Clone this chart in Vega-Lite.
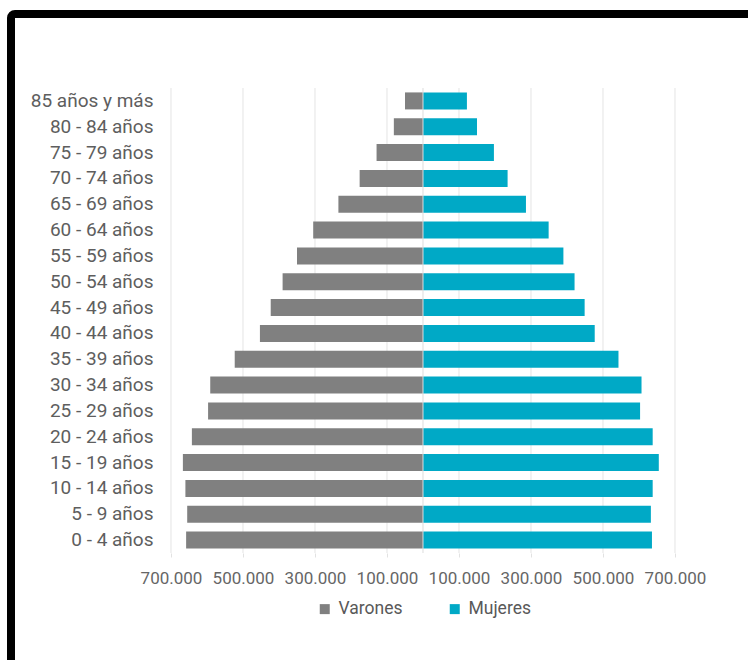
{
  "$schema": "https://vega.github.io/schema/vega-lite/v6.json",
  "width": 760,
  "height": 680,
  "autosize": {"type": "none"},
  "padding": {"left": 11, "top": 14, "right": 0, "bottom": 0},
  "background": "white",
  "config": {
    "view": {"stroke": "black", "strokeWidth": 8, "cornerRadius": 4},
    "font": "Roboto"
  },
  "datasets": {
    "pop": [
      {"edad": "85 años y más", "sexo": "Varones", "poblacion": -50000},
      {"edad": "85 años y más", "sexo": "Mujeres", "poblacion": 122000},
      {"edad": "80 - 84 años", "sexo": "Varones", "poblacion": -81000},
      {"edad": "80 - 84 años", "sexo": "Mujeres", "poblacion": 150000},
      {"edad": "75 - 79 años", "sexo": "Varones", "poblacion": -129000},
      {"edad": "75 - 79 años", "sexo": "Mujeres", "poblacion": 197000},
      {"edad": "70 - 74 años", "sexo": "Varones", "poblacion": -176000},
      {"edad": "70 - 74 años", "sexo": "Mujeres", "poblacion": 235000},
      {"edad": "65 - 69 años", "sexo": "Varones", "poblacion": -235000},
      {"edad": "65 - 69 años", "sexo": "Mujeres", "poblacion": 286000},
      {"edad": "60 - 64 años", "sexo": "Varones", "poblacion": -305000},
      {"edad": "60 - 64 años", "sexo": "Mujeres", "poblacion": 349000},
      {"edad": "55 - 59 años", "sexo": "Varones", "poblacion": -350000},
      {"edad": "55 - 59 años", "sexo": "Mujeres", "poblacion": 390000},
      {"edad": "50 - 54 años", "sexo": "Varones", "poblacion": -390000},
      {"edad": "50 - 54 años", "sexo": "Mujeres", "poblacion": 421000},
      {"edad": "45 - 49 años", "sexo": "Varones", "poblacion": -423000},
      {"edad": "45 - 49 años", "sexo": "Mujeres", "poblacion": 449000},
      {"edad": "40 - 44 años", "sexo": "Varones", "poblacion": -453000},
      {"edad": "40 - 44 años", "sexo": "Mujeres", "poblacion": 477000},
      {"edad": "35 - 39 años", "sexo": "Varones", "poblacion": -523000},
      {"edad": "35 - 39 años", "sexo": "Mujeres", "poblacion": 543000},
      {"edad": "30 - 34 años", "sexo": "Varones", "poblacion": -591000},
      {"edad": "30 - 34 años", "sexo": "Mujeres", "poblacion": 607000},
      {"edad": "25 - 29 años", "sexo": "Varones", "poblacion": -597000},
      {"edad": "25 - 29 años", "sexo": "Mujeres", "poblacion": 603000},
      {"edad": "20 - 24 años", "sexo": "Varones", "poblacion": -642000},
      {"edad": "20 - 24 años", "sexo": "Mujeres", "poblacion": 638000},
      {"edad": "15 - 19 años", "sexo": "Varones", "poblacion": -667000},
      {"edad": "15 - 19 años", "sexo": "Mujeres", "poblacion": 655000},
      {"edad": "10 - 14 años", "sexo": "Varones", "poblacion": -660000},
      {"edad": "10 - 14 años", "sexo": "Mujeres", "poblacion": 638000},
      {"edad": "5 - 9 años", "sexo": "Varones", "poblacion": -655000},
      {"edad": "5 - 9 años", "sexo": "Mujeres", "poblacion": 633000},
      {"edad": "0 - 4 años", "sexo": "Varones", "poblacion": -658000},
      {"edad": "0 - 4 años", "sexo": "Mujeres", "poblacion": 636000}
    ],
    "grid": [
      {"valor": -700000}, {"valor": -500000}, {"valor": -300000}, {"valor": -100000},
      {"valor": 100000}, {"valor": 300000}, {"valor": 500000}, {"valor": 700000}
    ]
  },
  "layer": [
    {
      "data": {"name": "grid"},
      "mark": {"type": "rule", "color": "#e4e4e4", "strokeWidth": 1},
      "encoding": {
        "x": {"field": "valor", "type": "quantitative", "title": null},
        "y": {"datum": "85 años y más", "type": "nominal", "bandPosition": -0.26},
        "y2": {"datum": "0 - 4 años", "bandPosition": 1.26}
      }
    },
    {
      "data": {"name": "pop"},
      "mark": {"type": "bar"},
      "encoding": {
        "y": {
          "field": "edad", "type": "nominal", "title": null,
          "scale": {
            "domain": ["85 años y más", "80 - 84 años", "75 - 79 años", "70 - 74 años", "65 - 69 años", "60 - 64 años", "55 - 59 años", "50 - 54 años", "45 - 49 años", "40 - 44 años", "35 - 39 años", "30 - 34 años", "25 - 29 años", "20 - 24 años", "15 - 19 años", "10 - 14 años", "5 - 9 años", "0 - 4 años"],
            "range": [74, 539],
            "paddingInner": 0.342, "paddingOuter": 0.171
          },
          "axis": {
            "orient": "left", "offset": -142, "ticks": false, "domain": false,
            "labelPadding": 0, "labelFontSize": 19, "labelColor": "#5e5e5e",
            "labelFont": "Roboto", "grid": false
          }
        },
        "x": {
          "field": "poblacion", "type": "quantitative", "title": null, "stack": null,
          "scale": {"domain": [-1144444, 966667], "nice": false, "zero": false},
          "axis": {
            "orient": "bottom", "offset": -141, "values": [-700000, -500000, -300000, -100000, 100000, 300000, 500000, 700000],
            "labelExpr": "replace(format(abs(datum.value), ','), ',', '.')",
            "domain": false, "grid": false, "ticks": true, "tickColor": "#e2e2e2", "tickSize": 4,
            "labelPadding": 13, "labelFontSize": 17, "labelColor": "#666666", "labelFont": "Roboto"
          }
        },
        "color": {
          "field": "sexo", "type": "nominal",
          "scale": {"domain": ["Varones", "Mujeres"], "range": ["#808080", "#00a9c6"]},
          "legend": {
            "title": null, "orient": "none", "legendX": 305, "legendY": 586,
            "direction": "horizontal", "symbolType": "square", "symbolSize": 100,
            "symbolStrokeWidth": 0, "labelFontSize": 17.5, "labelColor": "#595959",
            "labelFont": "Roboto", "columnPadding": 43, "labelOffset": 5
          }
        }
      }
    },
    {
      "data": {"values": [{"cero": 0}]},
      "mark": {"type": "rule", "color": "#dcdcdc", "strokeWidth": 1},
      "encoding": {
        "x": {"field": "cero", "type": "quantitative", "title": null},
        "y": {"datum": "85 años y más", "type": "nominal", "bandPosition": -0.26},
        "y2": {"datum": "0 - 4 años", "bandPosition": 1.26}
      }
    }
  ]
}
